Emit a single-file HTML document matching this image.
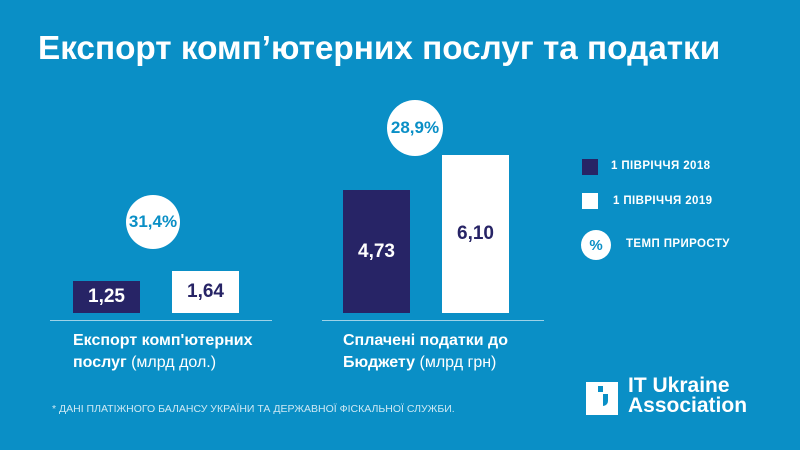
<!DOCTYPE html>
<html><head><meta charset="utf-8"><style>
body{margin:0;width:800px;height:450px;background:#0a8fc6;font-family:"Liberation Sans",sans-serif;position:relative;overflow:hidden;color:#fff}
div{position:absolute}
.bar{display:flex;align-items:center;justify-content:center;font-weight:bold;font-size:19px}
.d{background:#272466;color:#fff}.w{background:#fff;color:#272466}
.c{background:#fff;border-radius:50%;color:#0a8fc6;font-weight:bold;display:flex;align-items:center;justify-content:center}
.lab{font-size:16px;line-height:22px}
.lg{font-size:11.5px;font-weight:bold;letter-spacing:.4px}
</style></head><body>
<div style="left:38px;top:30px;font-size:33.3px;font-weight:bold;white-space:nowrap">Експорт комп’ютерних послуг та податки</div>
<div class="bar d" style="left:73px;top:281px;width:67px;height:32px">1,25</div>
<div class="bar w" style="left:172px;top:271px;width:67px;height:42px">1,64</div>
<div class="bar d" style="left:343px;top:190px;width:67px;height:123px">4,73</div>
<div class="bar w" style="left:442px;top:155px;width:67px;height:158px">6,10</div>
<div class="c" style="left:126px;top:195px;width:54px;height:54px;font-size:17px">31,4%</div>
<div class="c" style="left:387px;top:100px;width:56px;height:56px;font-size:17px">28,9%</div>
<div style="left:50px;top:320px;width:222px;height:1px;background:rgba(255,255,255,.6)"></div>
<div style="left:322px;top:320px;width:222px;height:1px;background:rgba(255,255,255,.6)"></div>
<div class="lab" style="left:73px;top:330px"><b>Експорт комп'ютерних<br>послуг</b> (млрд дол.)</div>
<div class="lab" style="left:343px;top:330px"><b>Сплачені податки до<br>Бюджету</b> (млрд грн)</div>
<div style="left:582px;top:159px;width:16px;height:16px;background:#272466"></div>
<div class="lg" style="left:611px;top:160px">1 ПІВРІЧЧЯ 2018</div>
<div style="left:582px;top:193px;width:16px;height:16px;background:#fff"></div>
<div class="lg" style="left:613px;top:195px">1 ПІВРІЧЧЯ 2019</div>
<div class="c" style="left:581px;top:230px;width:30px;height:30px;font-size:15px">%</div>
<div class="lg" style="left:626px;top:238px">ТЕМП ПРИРОСТУ</div>
<div style="left:52px;top:403px;font-size:10.5px;color:rgba(255,255,255,.8);white-space:nowrap">* ДАНІ ПЛАТІЖНОГО БАЛАНСУ УКРАЇНИ ТА ДЕРЖАВНОЇ ФІСКАЛЬНОЇ СЛУЖБИ.</div>
<div style="left:586px;top:382px;width:32px;height:33px;background:#fff"></div>
<div style="left:598px;top:386px;width:5px;height:6px;background:#0a8fc6"></div>
<div style="left:603px;top:394px;width:5px;height:12px;background:#0a8fc6;border-radius:0 0 5px 0"></div>
<div style="left:628px;top:376px;font-size:21px;font-weight:bold;line-height:20px;white-space:nowrap">IT Ukraine<br>Association</div>
</body></html>
